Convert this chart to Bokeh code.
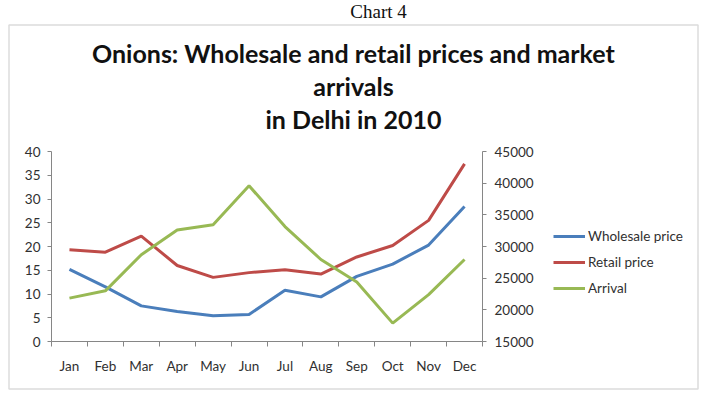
from bokeh.plotting import figure
from bokeh.models import (Range1d, LinearAxis, FixedTicker, Label, BoxAnnotation,
                          Legend, LegendItem, ColumnDataSource)
from bokeh.embed import file_html
from bokeh.resources import INLINE

months = ["Jan", "Feb", "Mar", "Apr", "May", "Jun", "Jul", "Aug", "Sep", "Oct", "Nov", "Dec"]
wholesale = [15.2, 11.5, 7.5, 6.3, 5.4, 5.7, 10.8, 9.4, 13.7, 16.3, 20.3, 28.4]
retail = [19.3, 18.8, 22.2, 16.0, 13.5, 14.5, 15.1, 14.2, 17.8, 20.2, 25.5, 37.4]
arrival = [21850, 23000, 28700, 32600, 33450, 39600, 33150, 27950, 24400, 17900, 22400, 27950]
left_ticks = [0, 5, 10, 15, 20, 25, 30, 35, 40]
right_ticks = [15000, 20000, 25000, 30000, 35000, 40000, 45000]

FONT = "Lato"
TXT = "#303030"
AX = "#868686"

# pixel layout of the canvas (top-left origin)
W, H = 700, 392
PL, PR, PT, PB = 51, 482, 151, 341   # plot-area edges

n = len(months)
xpp = n / (PR - PL)
x0 = 0 - PL * xpp
x1 = n + (W - PR) * xpp
lpp = (left_ticks[-1] - left_ticks[0]) / (PB - PT)
y0 = left_ticks[0] - (H - PB) * lpp
y1 = left_ticks[0] + PB * lpp
rpp = (right_ticks[-1] - right_ticks[0]) / (PB - PT)
r0 = right_ticks[0] - (H - PB) * rpp
r1_ = right_ticks[0] + PB * rpp

xs = [i + 0.5 for i in range(n)]
src = ColumnDataSource(dict(x=xs, w=wholesale, r=retail, a=arrival))

p = figure(width=W, height=H, output_backend="svg", toolbar_location=None,
           x_range=Range1d(x0, x1), y_range=Range1d(y0, y1),
           min_border=0, x_axis_location="below", y_axis_location="left")
p.title.visible = False
p.extra_y_ranges = {"arr": Range1d(r0, r1_)}
p.xgrid.visible = False
p.ygrid.visible = False
p.outline_line_color = None
p.background_fill_color = "white"
p.border_fill_color = "white"

# x axis
xa = p.xaxis[0]
xa.fixed_location = left_ticks[0]
xa.bounds = (0, n)
xa.ticker = FixedTicker(ticks=xs, minor_ticks=list(range(n + 1)))
xa.major_label_overrides = {x: m for x, m in zip(xs, months)}
xa.major_tick_out = 0
xa.major_tick_in = 0
xa.minor_tick_out = 5
xa.minor_tick_in = 0
xa.minor_tick_line_color = AX
xa.axis_line_color = AX
xa.major_label_standoff = 11
xa.major_label_text_font = FONT
xa.major_label_text_font_size = "13.5px"
xa.major_label_text_color = TXT

# left axis
ya = p.yaxis[0]
ya.fixed_location = 0
ya.bounds = (left_ticks[0], left_ticks[-1])
ya.ticker = FixedTicker(ticks=left_ticks)
ya.major_tick_out = 4
ya.major_tick_in = 0
ya.minor_tick_line_color = None
ya.axis_line_color = AX
ya.major_tick_line_color = AX
ya.major_label_standoff = 7
ya.major_label_text_font = FONT
ya.major_label_text_font_size = "13.5px"
ya.major_label_text_color = TXT

# right axis
ra = LinearAxis(y_range_name="arr", ticker=FixedTicker(ticks=right_ticks))
ra.fixed_location = n
ra.bounds = (right_ticks[0], right_ticks[-1])
ra.major_tick_out = 4
ra.major_tick_in = 0
ra.minor_tick_line_color = None
ra.axis_line_color = AX
ra.major_tick_line_color = AX
ra.major_label_standoff = 8
ra.major_label_text_font = FONT
ra.major_label_text_font_size = "13.5px"
ra.major_label_text_color = TXT
p.add_layout(ra, "right")

g1 = p.line("x", "w", source=src, line_color="#4A7EBB", line_width=3)
g2 = p.line("x", "r", source=src, line_color="#BE4B48", line_width=3)
g3 = p.line("x", "a", source=src, line_color="#98B954", line_width=3, y_range_name="arr")

legend = Legend(items=[LegendItem(label="Wholesale price", renderers=[g1]),
                       LegendItem(label="Retail price", renderers=[g2]),
                       LegendItem(label="Arrival", renderers=[g3])],
                location=(553, H - 298), border_line_color=None, background_fill_alpha=0,
                padding=0, margin=0, spacing=6, glyph_width=32, label_standoff=3,
                label_text_font=FONT, label_text_font_size="13.5px", label_text_color=TXT)
p.add_layout(legend, "center")

# border of the chart box
box = BoxAnnotation(left=8.5, right=697.5, top=H - 24.5, bottom=H - 388.5,
                    left_units="screen", right_units="screen", top_units="screen",
                    bottom_units="screen", fill_alpha=0, line_color="#8c8c8c", line_width=1.5)
p.add_layout(box)

fx = 353
for txt, yy in [("Onions: Wholesale and retail prices and market", 52),
                ("arrivals", 85), ("in Delhi in 2010", 118)]:
    p.add_layout(Label(x=fx, y=H - yy, x_units="screen", y_units="screen", text=txt,
                       text_align="center", text_baseline="middle", text_font=FONT,
                       text_font_style="bold", text_font_size="25px", text_color="#111111"))
p.add_layout(Label(x=378, y=H - 11, x_units="screen", y_units="screen", text="Chart 4",
                   text_align="center", text_baseline="middle", text_font="Liberation Serif",
                   text_font_size="19px", text_color="#111111"))

open("out.html", "w").write(file_html(p, INLINE))
